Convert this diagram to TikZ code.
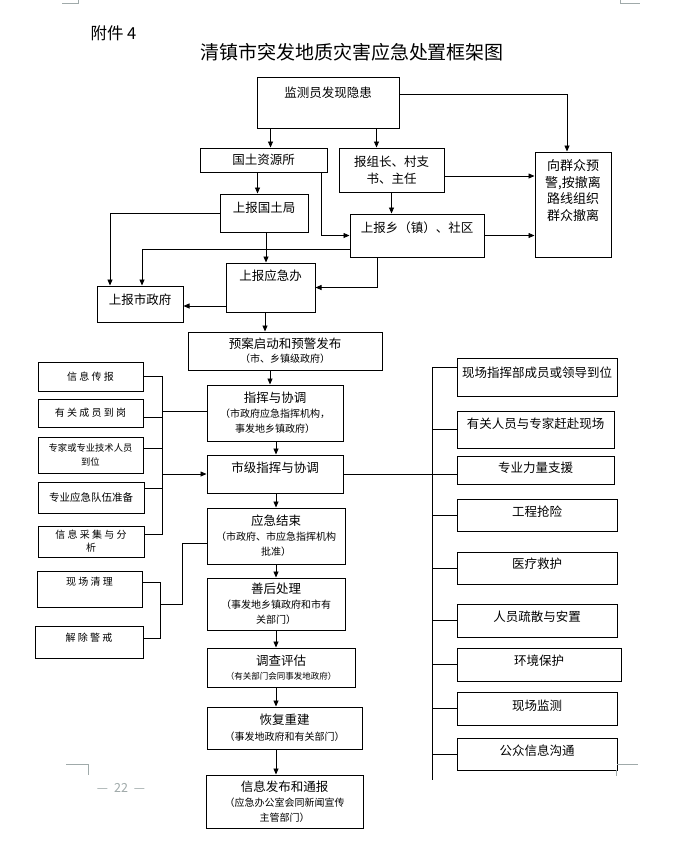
\documentclass[tikz,border=0pt]{standalone}
\usepackage{fontspec}
\setmainfont{Noto Sans CJK SC}
\usepackage{tikz}
\usetikzlibrary{positioning,arrows.meta}
\newcommand*{\subtxt}{\fontsize{10}{14}\selectfont}
\newcommand*{\tinytxt}{\fontsize{8.5}{12}\selectfont}
\definecolor{markgray}{RGB}{160,170,170}

\begin{document}
\begin{tikzpicture}[x=1pt, y=-1pt, lift/.style={text height=11pt, text depth=#1}]
	\tikzstyle{box}=[rectangle, draw=black, line width=1pt, inner sep=2pt, align=center,
	text=black, font=\fontsize{12.5}{15}\selectfont]
	\tikzstyle{leftbox}=[box, font=\fontsize{10}{13}\selectfont]
	\tikzstyle{line}=[-, line width=0.8pt]
	\tikzstyle{arr}=[line, -{Triangle[length=6pt,width=5pt]}]
	\tikzstyle{pagemark}=[line width=0.8pt, draw=markgray]
	\path[use as bounding box, fill=white] (0,0) rectangle (691,863);

	% heading
	\node (fujian) [anchor=west, font=\fontsize{16.5}{18}\selectfont] at (87,33) {附件 4};
	\node (title) [font=\fontsize{19}{22}\selectfont] at (352,52) {清镇市突发地质灾害应急处置框架图};

	% reporting chain
	\node (jiance) [box, lift=20.5pt, minimum width=142pt, minimum height=51pt] at (328,102.5) {监测员发现隐患};
	\node (guotu) [box, minimum width=127pt, minimum height=24pt] at (263.5,160) {国土资源所};
	\node (zuzhang) [box, font=\fontsize{12.5}{17}\selectfont, minimum width=105pt, minimum height=44pt] at (391.5,170)
	{报组长、村支\\书、主任};
	\node (qunzhong) [box, font=\fontsize{13}{16.5}\selectfont, minimum width=76pt, minimum height=105pt] at (573,204.5)
	{向群众预\\警,按撤离\\路线组织\\群众撤离\\[12.5pt]~};
	\node (gtj) [box, lift=11.5pt, minimum width=88pt, minimum height=38pt] at (264,213) {上报国土局};
	\node (xiangzhen) [box, lift=16.5pt, minimum width=134pt, minimum height=43pt] at (417,235.5) {上报乡（镇）、社区};
	\node (yingji) [box, lift=24.5pt, minimum width=89pt, minimum height=49pt] at (270.5,287.5) {上报应急办};
	\node (shizhengfu) [box, lift=9.5pt, minimum width=86pt, minimum height=36pt] at (140,304) {上报市政府};

	% response chain
	\node (yuan) [box, font=\fontsize{12.5}{14}\selectfont, minimum width=194pt, minimum height=38pt] at (285,351)
	{预案启动和预警发布\\{\subtxt （市、乡镇级政府）}};
	\node (zhihui) [box, minimum width=136pt, minimum height=56pt] at (275,413)
	{指挥与协调\\{\subtxt （市政府应急指挥机构，}\\{\subtxt 事发地乡镇政府）}};
	\node (shiji) [box, lift=13.5pt, minimum width=136pt, minimum height=38pt] at (275,474) {市级指挥与协调};
	\node (jieshu) [box, minimum width=138pt, minimum height=56pt] at (276,536)
	{应急结束\\{\subtxt （市政府、市应急指挥机构}\\{\subtxt 批准）}};
	\node (shanhou) [box, minimum width=138pt, minimum height=52pt] at (276,604)
	{善后处理\\{\subtxt （事发地乡镇政府和市有}\\{\subtxt 关部门）}};
	\node (diaocha) [box, font=\fontsize{12.5}{13.5}\selectfont, minimum width=148pt, minimum height=39pt] at (281,667.5)
	{调查评估\\{\tinytxt （有关部门会同事发地政府）}};
	\node (huifu) [box, font=\fontsize{12.5}{16}\selectfont, minimum width=155pt, minimum height=42pt] at (284.5,728)
	{恢复重建\\{\subtxt （事发地政府和有关部门）}};
	\node (fabu) [box, minimum width=157pt, minimum height=53pt] at (284.5,801.5)
	{信息发布和通报\\{\subtxt （应急办公室会同新闻宣传}\\{\subtxt 主管部门）}};

	% left column
	\node (chuanbao) [leftbox, minimum width=105pt, minimum height=29pt] at (90.5,376.5) {信 息 传 报};
	\node (daogang) [leftbox, minimum width=105pt, minimum height=28pt] at (90.5,413) {有 关 成 员 到 岗};
	\node (zhuanjia) [leftbox, font=\fontsize{9.3}{14}\selectfont, minimum width=105pt, minimum height=36pt] at (90.5,455)
	{专家或专业技术人员\\到位};
	\node (duiwu) [leftbox, font=\fontsize{10.5}{13}\selectfont, minimum width=106pt, minimum height=31pt] at (91,497.5)
	{专业应急队伍准备};
	\node (caiji) [leftbox, minimum width=106pt, minimum height=31pt] at (91,541.5) {信 息 采 集 与 分\\析};
	\node (qingli) [leftbox, text height=8.5pt, text depth=15pt, minimum width=105pt, minimum height=36pt] at (89.5,589)
	{现 场 清 理};
	\node (jingjie) [leftbox, text height=8.5pt, text depth=9.3pt, minimum width=108pt, minimum height=32pt] at (89,642)
	{解 除 警 戒};

	% right column
	\node (daowei) [box, lift=9.5pt, minimum width=160pt, minimum height=38pt] at (537,377) {现场指挥部成员或领导到位};
	\node (ganfu) [box, lift=12.5pt, minimum width=157pt, minimum height=37pt] at (535.5,429.5) {有关人员与专家赶赴现场};
	\node (zhiyuan) [box, lift=5.5pt, minimum width=157pt, minimum height=28pt] at (535.5,470) {专业力量支援};
	\node (qiangxian) [box, lift=7.5pt, minimum width=160pt, minimum height=32pt] at (537,515) {工程抢险};
	\node (jiuhu) [box, lift=9.5pt, minimum width=160pt, minimum height=32pt] at (537,568) {医疗救护};
	\node (anzhi) [box, lift=8.5pt, minimum width=160pt, minimum height=33pt] at (537,620.5) {人员疏散与安置};
	\node (huanjing) [box, lift=8.5pt, minimum width=164pt, minimum height=33pt] at (539,664.5) {环境保护};
	\node (jiancexc) [box, lift=6.5pt, minimum width=160pt, minimum height=33pt] at (537,708.5) {现场监测};
	\node (goutong) [box, lift=7.5pt, minimum width=160pt, minimum height=32pt] at (537,754) {公众信息沟通};

	% bracket points
	\coordinate (lb) at (162,0);
	\coordinate (lb2) at (160,0);
	\coordinate (join2) at (161,604);
	\coordinate (knee) at (182,0);
	\coordinate (rb) at (432,0);
	\coordinate (rbend) at (432,780);
	\coordinate (axis) at (276,0);

	% top arrows
	\draw[arr] ([xshift=14pt]jiance.south west) -- ([xshift=14pt]jiance.south west |- guotu.north);
	\draw[arr] ([xshift=-23pt]jiance.south east) -- ([xshift=-23pt]jiance.south east |- zuzhang.north);
	\draw[arr] ([yshift=8.5pt]jiance.east) -| ([xshift=-6pt]qunzhong.north);
	\draw[arr] ([xshift=-6pt]guotu.south) -- ([xshift=-6pt]guotu.south |- gtj.north);
	\draw[arr] ([xshift=-6pt]guotu.south east) |- (xiangzhen.west);
	\draw[arr] (zuzhang.south) -- (zuzhang.south |- xiangzhen.north);
	\draw[arr] ([yshift=-6pt]zuzhang.east) -- ([yshift=-6pt]zuzhang.east -| qunzhong.west);
	\draw[arr] (xiangzhen.east) -- (xiangzhen.east -| qunzhong.west);
	\draw[arr] ([yshift=-13.5pt]xiangzhen.west) -| ([xshift=2pt]shizhengfu.north);
	\draw[arr] (gtj.west) -| ([xshift=-30pt]shizhengfu.north);
	\draw[arr] ([xshift=2pt]gtj.south) -- ([xshift=2pt]gtj.south |- yingji.north);
	\draw[arr] ([xshift=-40pt]xiangzhen.south) |- (yingji.east);
	\draw[arr] ([yshift=-18.5pt]yingji.west) -- ([yshift=-18.5pt]yingji.west -| shizhengfu.east);
	\draw[arr] ([xshift=-5.5pt]yingji.south) -- ([xshift=-5.5pt]yingji.south |- yuan.north);
	\draw[arr] ([xshift=-15pt]yuan.south) -- ([xshift=-15pt]yuan.south |- zhihui.north);

	% middle arrows
	\draw[arr] (zhihui.south -| axis) -- (shiji.north -| axis);
	\draw[arr] (shiji.south -| axis) -- (jieshu.north -| axis);
	\draw[arr] (jieshu.south -| axis) -- (shanhou.north -| axis);
	\draw[arr] (shanhou.south -| axis) -- (diaocha.north -| axis);
	\draw[arr] (diaocha.south -| axis) -- (huifu.north -| axis);
	\draw[arr] (huifu.south -| axis) -- (fabu.north -| axis);

	% left brackets
	\draw[line] (chuanbao.east) -| ([yshift=7.5pt]caiji.east -| lb) -- ([yshift=7.5pt]caiji.east);
	\draw[line] ([yshift=-4pt]daogang.east) -- ([yshift=-4pt]daogang.east -| lb);
	\draw[line] ([yshift=7pt]zhuanjia.east) -- ([yshift=7pt]zhuanjia.east -| lb);
	\draw[line] ([yshift=9.5pt]duiwu.east) -- ([yshift=9.5pt]duiwu.east -| lb);
	\draw[line] ([yshift=2pt]zhihui.west -| lb) -- ([yshift=2pt]zhihui.west);
	\draw[arr] (shiji.west -| lb) -- (shiji.west);
	\draw[line] ([yshift=7pt]qingli.east) -| ([yshift=4pt]jingjie.east -| lb2) -- ([yshift=4pt]jingjie.east);
	\draw[line] (join2) -| ([yshift=-7pt]jieshu.west -| knee) -- ([yshift=-7pt]jieshu.west);

	% right bracket
	\draw[line] ([yshift=10pt]daowei.west) -| (rbend);
	\draw[line] (ganfu.west) -- (ganfu.west -| rb);
	\draw[line] (shiji.east) -- (shiji.east -| zhiyuan.west);
	\draw[line] (qiangxian.west) -- (qiangxian.west -| rb);
	\draw[line] (jiuhu.west) -- (jiuhu.west -| rb);
	\draw[line] (anzhi.west) -- (anzhi.west -| rb);
	\draw[line] (huanjing.west) -- (huanjing.west -| rb);
	\draw[line] (jiancexc.west) -- (jiancexc.west -| rb);
	\draw[line] (goutong.west) -- (goutong.west -| rb);

	% page marks
	\draw[pagemark] (62,3) -- (78,3) -- (78,0);
	\draw[pagemark] (620,0) -- (620,3) -- (640,3);
	\draw[pagemark] (66,764) -- (88,764) -- (88,775);
	\draw[pagemark] (617,764) -- (638,764);
	\draw[pagemark] (616,770) -- (616,776);
	\node (pagenum) [text=markgray, font=\fontsize{12.5}{14}\selectfont] at (121,788) {—\hspace{6pt}22\hspace{6pt}—};
\end{tikzpicture}
\end{document}
